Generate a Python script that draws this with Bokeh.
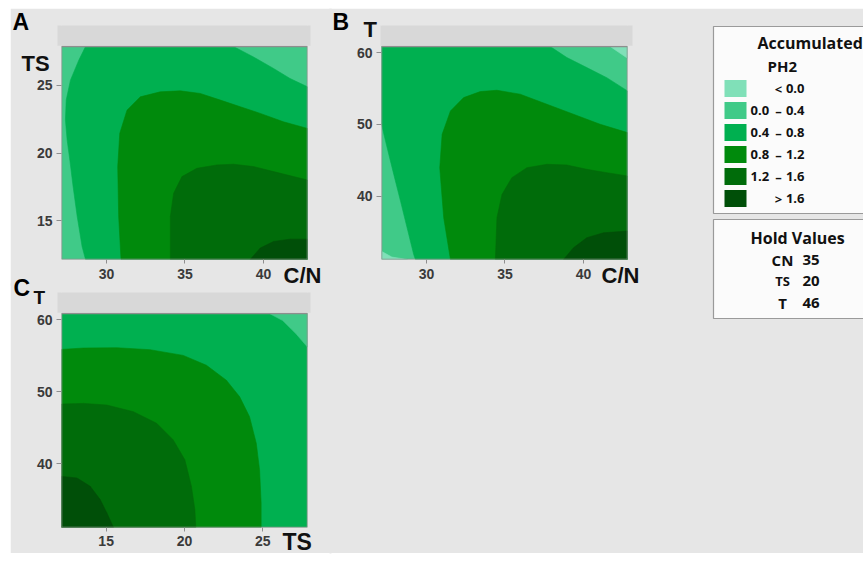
from bokeh.plotting import figure
from bokeh.models import Range1d, Spacer, GridBox
from bokeh.embed import file_html
from bokeh.resources import INLINE
from bokeh.core.properties import value

# ---------------- data ----------------
LEVEL_LO = ["", "0.0", "0.4", "0.8", "1.2", ""]
LEVEL_SIGN = ["<", "–", "–", "–", "–", ">"]
LEVEL_HI = ["0.0", "0.4", "0.8", "1.2", "1.6", "1.6"]
LEVEL_COLORS = ["#80e0b8", "#40ca88", "#00b050", "#008a0c", "#006c0a", "#004f08"]

HOLD_FACTORS = ["CN", "TS", "T"]
HOLD_VALUES = ["35", "20", "46"]

CN_RANGE = [27.14, 42.8]
TS_RANGE = [12.15, 27.85]
T_RANGE = [31.16, 60.84]
CN_TICKS = [30, 35, 40]
TS_TICKS = [15, 20, 25]
T_TICKS = [40, 50, 60]

# Panel A (x = C/N, y = TS): filled regions, level index into LEVEL_COLORS
A_BASE = 1
A_GE04_CN = [28.67, 28.24, 27.71, 27.44, 27.39, 27.50, 27.67, 27.88, 28.14, 28.45, 28.67, 42.8, 42.8, 41.69, 40.64, 39.36, 38.09]
A_GE04_TS = [27.85, 26.84, 25.37, 23.90, 22.43, 20.96, 19.49, 17.52, 15.32, 13.11, 12.15, 12.15, 24.88, 25.49, 26.23, 27.08, 27.85]
A_GE08_CN = [30.93, 30.78, 30.72, 30.85, 31.31, 32.16, 33.43, 34.70, 35.97, 37.25, 38.52, 39.79, 41.27, 42.8, 42.8]
A_GE08_TS = [12.15, 15.32, 19.00, 21.45, 23.16, 24.14, 24.51, 24.58, 24.39, 23.90, 23.41, 22.92, 22.30, 21.81, 12.15]
A_GE12_CN = [34.07, 34.07, 34.28, 34.81, 35.76, 37.03, 38.09, 39.36, 40.64, 41.91, 42.8, 42.8]
A_GE12_TS = [12.15, 15.32, 17.03, 18.26, 18.87, 19.12, 19.17, 19.00, 18.63, 18.26, 18.01, 12.15]
A_GE16_CN = [39.15, 39.79, 40.64, 41.69, 42.8, 42.8]
A_GE16_TS = [12.15, 12.99, 13.48, 13.65, 13.65, 12.15]

# Panel B (x = C/N, y = T)
B_BASE = 1
B_GE04_CN = [27.14, 37.88, 38.94, 40.21, 41.48, 42.8, 42.8, 29.30, 29.19, 28.77, 28.35, 27.92, 27.50, 27.14]
B_GE04_T = [60.84, 60.84, 59.30, 57.90, 56.50, 54.65, 31.16, 31.16, 31.86, 35.58, 39.30, 43.02, 46.74, 50.00]
B_GE08_CN = [31.53, 31.10, 30.85, 31.00, 31.53, 32.37, 33.43, 34.49, 35.97, 37.67, 39.36, 41.06, 42.8, 42.8]
B_GE08_T = [31.16, 36.98, 43.95, 48.60, 51.86, 53.72, 54.56, 54.74, 54.19, 52.79, 51.40, 50.00, 48.84, 31.16]
B_GE12_CN = [34.39, 34.49, 34.81, 35.44, 36.40, 37.67, 38.94, 40.21, 41.48, 42.8, 42.8]
B_GE12_T = [31.16, 36.98, 40.23, 42.56, 43.95, 44.42, 44.33, 43.72, 43.26, 42.79, 31.16]
B_GE16_CN = [38.73, 39.36, 40.21, 41.27, 42.8, 42.8]
B_GE16_T = [31.16, 32.79, 34.19, 34.88, 35.12, 31.16]
B_LT00A_CN = [41.70, 42.8, 42.8]
B_LT00A_T = [60.84, 60.84, 59.20]
B_LT00B_CN = [27.14, 27.14, 28.80, 27.80]
B_LT00B_T = [32.30, 31.16, 31.16, 31.50]

# Panel C (x = TS, y = T)
C_BASE = 2
C_GE08_TS = [12.15, 13.56, 15.68, 17.80, 19.92, 21.40, 22.67, 23.52, 24.15, 24.58, 24.79, 24.89, 24.89, 12.15]
C_GE08_T = [55.86, 56.05, 56.09, 55.82, 55.03, 53.66, 51.59, 49.29, 46.53, 42.85, 39.17, 34.57, 31.16, 31.16]
C_GE12_TS = [12.15, 13.56, 15.04, 16.74, 18.22, 19.28, 20.02, 20.44, 20.66, 20.72, 12.15]
C_GE12_T = [48.28, 48.37, 48.14, 47.22, 45.61, 43.31, 40.55, 36.87, 33.66, 31.16, 31.16]
C_GE16_TS = [12.15, 13.14, 13.98, 14.62, 15.04, 15.47, 12.15]
C_GE16_T = [38.25, 38.02, 36.87, 35.03, 33.20, 31.16, 31.16]
C_LT04_TS = [25.42, 26.27, 27.12, 27.85, 27.85]
C_LT04_T = [60.84, 59.86, 58.02, 56.18, 60.84]

# ---------------- style ----------------
BG = "#e6e6e6"
HEADER = "#d8d8d8"
FRAME_LINE = "#8e8e8e"
TICK_FONT = "Liberation Sans"
LABEL_FONT = "Liberation Sans"
LEG_FONT = "Open Sans"
LEG_COLOR = "#111111"


def make_panel(x_rng, y_rng, x_ticks, y_ticks, base, regions, frame_h, header_px,
               mb_top, mb_bottom, mb_right, x_standoff):
    plot_px = frame_h - header_px
    y_top = y_rng[1] + header_px * (y_rng[1] - y_rng[0]) / plot_px
    p = figure(frame_width=246, frame_height=frame_h, title=None,
               x_range=Range1d(x_rng[0], x_rng[1]), y_range=Range1d(y_rng[0], y_top),
               min_border_left=51, min_border_right=mb_right,
               min_border_top=mb_top, min_border_bottom=mb_bottom,
               output_backend="svg", toolbar_location=None)
    p.background_fill_color = BG
    p.border_fill_color = BG
    p.outline_line_color = None
    p.grid.visible = False
    p.quad(left=[x_rng[0]], right=[x_rng[1]], bottom=[y_rng[0]], top=[y_rng[1]],
           fill_color=LEVEL_COLORS[base], line_color=None)
    for level, xs, ys in regions:
        p.patch(xs, ys, fill_color=LEVEL_COLORS[level], line_color=LEVEL_COLORS[level], line_width=0.6)
    p.quad(left=[x_rng[0]], right=[x_rng[1]], bottom=[y_rng[1]], top=[y_top],
           fill_color=HEADER, line_color=None)
    p.quad(left=[x_rng[0]], right=[x_rng[1]], bottom=[y_rng[0]], top=[y_rng[1]],
           fill_color=None, line_color=FRAME_LINE, line_width=1.5)
    p.xaxis.ticker = x_ticks
    p.yaxis.ticker = y_ticks
    for ax in (p.xaxis, p.yaxis):
        ax.axis_line_color = None
        ax.major_tick_line_color = FRAME_LINE
        ax.major_tick_in = 0
        ax.minor_tick_line_color = None
        ax.major_label_text_font = TICK_FONT
        ax.major_label_text_font_style = "bold"
        ax.major_label_text_font_size = "14px"
        ax.major_label_text_color = "#3a3a3a"
    p.xaxis.major_tick_out = 4
    p.xaxis.major_label_standoff = x_standoff
    p.yaxis.major_tick_out = 5
    p.yaxis.major_label_standoff = 4
    return p


pA = make_panel(CN_RANGE, TS_RANGE, CN_TICKS, TS_TICKS, A_BASE,
                [(2, A_GE04_CN, A_GE04_TS), (3, A_GE08_CN, A_GE08_TS),
                 (4, A_GE12_CN, A_GE12_TS), (5, A_GE16_CN, A_GE16_TS)],
                234, 21, 17, 25, 23, 5)

pB = make_panel(CN_RANGE, T_RANGE, CN_TICKS, T_TICKS, B_BASE,
                [(2, B_GE04_CN, B_GE04_T), (3, B_GE08_CN, B_GE08_T),
                 (4, B_GE12_CN, B_GE12_T), (5, B_GE16_CN, B_GE16_T),
                 (0, B_LT00A_CN, B_LT00A_T), (0, B_LT00B_CN, B_LT00B_T)],
                234, 21, 17, 294, 236, 5)

pC = make_panel(TS_RANGE, T_RANGE, TS_TICKS, T_TICKS, C_BASE,
                [(3, C_GE08_TS, C_GE08_T), (4, C_GE12_TS, C_GE12_T),
                 (5, C_GE16_TS, C_GE16_T), (1, C_LT04_TS, C_LT04_T)],
                235, 21, 8, 26, 23, 4)

# ---------------- overlay: panel letters, axis names, legend (page pixel space) ----------------
ov = figure(frame_width=863, frame_height=561, title=None,
            x_range=Range1d(0, 863), y_range=Range1d(561, 0),
            x_axis_location=None, y_axis_location=None, min_border=0,
            output_backend="svg", toolbar_location=None)
ov.grid.visible = False
ov.outline_line_color = None
ov.background_fill_color = None
ov.border_fill_color = None

# seams between the panel canvases
ov.quad(left=[329, 10], right=[331, 330], top=[8, 283], bottom=[553, 285],
        fill_color=BG, line_color=None)
# header strips (slightly wider than the plot areas)
ov.quad(left=[57, 380, 57], right=[310, 632, 310], top=[25, 25, 292], bottom=[45.3, 45.3, 312.3],
        fill_color=HEADER, line_color=None)

PANEL_TEXT = ["A", "B", "C"]
ov.text(x=[12, 332, 13], y=[21.5, 21.5, 287.5], text=PANEL_TEXT,
        text_font=value(LABEL_FONT), text_font_style="bold", text_font_size=value("23px"),
        text_color="#000000", text_baseline="middle", text_align="left")
AXIS_NAMES = ["TS", "C/N", "T", "C/N", "T", "TS"]
ov.text(x=[21, 283, 363, 601, 33, 282], y=[63, 275, 29, 275, 296.5, 541], text=AXIS_NAMES,
        text_font=value(LABEL_FONT), text_font_style="bold",
        text_font_size=["22px", "22px", "22px", "22px", "19px", "23px"],
        text_color="#111111", text_baseline="middle", text_align="left")

ov.quad(left=[713, 713], right=[875, 875], top=[26, 219], bottom=[213, 318],
        fill_color="#fbfbfb", line_color="#9a9a9a", line_width=1.2)
row_y = [88 + 22 * i for i in range(len(LEVEL_COLORS))]
ov.quad(left=724, right=746, top=[y - 8.5 for y in row_y], bottom=[y + 8.5 for y in row_y],
        fill_color=LEVEL_COLORS, line_color=None)

big = dict(text_font=value(LEG_FONT), text_font_style="bold", text_font_size=value("16px"),
           text_color=LEG_COLOR, text_baseline="middle")
small = dict(text_font=value(LEG_FONT), text_font_style="bold", text_font_size=value("13px"),
             text_color=LEG_COLOR, text_baseline="middle")
ov.text(x=[757], y=[42], text=["Accumulated"], text_align="left", **big)
ov.text(x=[767], y=[65], text=["PH2"], text_align="left",
        text_font=value(LEG_FONT), text_font_style="bold", text_font_size=value("15px"),
        text_color=LEG_COLOR, text_baseline="middle")
ov.text(x=[750] * 6, y=row_y, text=LEVEL_LO, text_align="left", **small)
ov.text(x=[778] * 6, y=row_y, text=LEVEL_SIGN, text_align="center", **small)
ov.text(x=[804] * 6, y=row_y, text=LEVEL_HI, text_align="right", **small)

hold_y = [259, 280, 302]
ov.text(x=[750], y=[237], text=["Hold Values"], text_align="left", **big)
ov.text(x=[782] * 3, y=hold_y, text=HOLD_FACTORS, text_align="center",
        text_font=value(LEG_FONT), text_font_style="bold", text_font_size=["15px", "13px", "15px"],
        text_color=LEG_COLOR, text_baseline="middle")
ov.text(x=[802] * 3, y=hold_y, text=HOLD_VALUES, text_align="left",
        text_font=value(LEG_FONT), text_font_style="bold", text_font_size=value("15px"),
        text_color=LEG_COLOR, text_baseline="middle")

grid = GridBox(children=[
    (Spacer(width=10, height=8), 0, 0),
    (pA, 1, 1),
    (pC, 2, 1),
    (pB, 1, 2, 2, 1),
    (Spacer(width=0, height=8), 3, 3),
    (ov, 0, 0, 4, 4),
])

open("out.html", "w").write(file_html(grid, INLINE))
